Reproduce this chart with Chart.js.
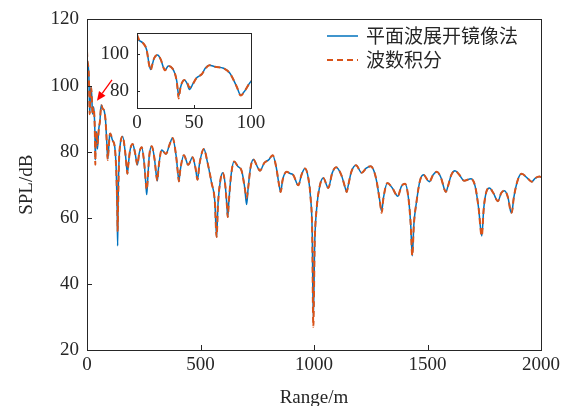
<!DOCTYPE html>
<html>
<head>
<meta charset="utf-8">
<script src="https://cdn.jsdelivr.net/npm/chart.js@4.4.1/dist/chart.umd.min.js"></script>
<style>
  html, body { margin: 0; padding: 0; background: #fff; }
  #wrap { position: relative; width: 565px; height: 406px; }
  #wrap canvas { position: absolute; left: 0; top: 0; }
</style>
</head>
<body>
<div id="wrap">
  <canvas id="mainChart" width="565" height="406"></canvas>
  <canvas id="insetChart" width="565" height="406"></canvas>
</div>
<script>
// 距离 (m)
var range = [
  0, 2, 5.5, 8.5, 10.5, 12, 13.5, 15, 18, 21, 23, 24.5, 27.5, 31, 33.5, 35, 36.6, 38, 39.5, 41.5,
  44, 46, 49, 52, 57, 60, 63.5, 68.5, 76, 81.5, 87.5, 91, 95, 99.7, 102, 112, 123, 129, 133, 135,
  137, 141, 147, 157, 168, 175, 178, 182, 190, 201, 212, 222, 230, 241, 252, 260, 263, 267, 274, 285,
  297, 306, 310, 315, 329, 348, 363, 377, 392, 402, 405, 410, 427, 446, 465, 478, 487, 495, 515, 530,
  549, 563, 571, 577, 588, 598, 608, 616, 620, 625, 635, 648, 665, 681, 695, 703, 710, 720, 733, 750,
  762, 781, 800, 818, 833, 846, 853, 862, 879, 895, 909, 931, 945, 960, 975, 985, 992, 997, 1003, 1012,
  1025, 1041, 1063, 1080, 1097, 1120, 1140, 1144, 1150, 1165, 1185, 1210, 1230, 1250, 1265, 1276, 1290, 1298, 1306, 1323,
  1345, 1369, 1385, 1401, 1416, 1426, 1433, 1440, 1452, 1466, 1482, 1508, 1525, 1541, 1560, 1575, 1581, 1590, 1605, 1621,
  1640, 1661, 1692, 1710, 1725, 1739, 1748, 1760, 1773, 1790, 1810, 1825, 1839, 1855, 1866, 1871, 1880, 1898, 1915, 1940,
  1959, 1975, 1993, 2000
];
// 平面波展开镜像法 (dB)
var splImage = [
  108, 107.3, 105.8, 102.2, 95, 91.7, 94.5, 97.7, 99.5, 96.8, 93, 91.4, 93.5, 92.3, 89, 85, 77.5, 81.5, 84.5, 86,
  84, 80.8, 83.8, 86.9, 89.2, 92.5, 94, 93.1, 92.3, 89.6, 82.3, 77.8, 80.5, 85, 85.5, 83.5, 81, 74, 62, 51.5,
  65, 77, 82.5, 84.6, 80, 75, 73.3, 76, 80.5, 82.3, 79.5, 76, 79.5, 81.3, 76.5, 69.5, 67, 71, 78.5, 81.6,
  78, 72.5, 71.2, 75, 80.5, 79.3, 82, 84.1, 79, 72.5, 71, 74, 78.9, 76, 78.3, 75, 71.5, 76, 80.8, 77,
  70.5, 65, 54.2, 64, 71.5, 73.6, 70.5, 64, 60.2, 65, 73, 77, 75.5, 74.2, 69, 64, 69, 75, 77.6, 75.5,
  74.2, 76.6, 77.5, 78.9, 75.5, 70, 67.8, 71.5, 73.9, 73.4, 72.9, 69.8, 73, 74.9, 72, 66, 56, 29, 52, 63,
  69.5, 72, 69, 73.5, 75.3, 73, 68.5, 67.8, 69.5, 74, 75.9, 73.6, 75, 75.6, 74, 71, 65, 62, 66, 70.5,
  69, 66.5, 69.5, 70.3, 66, 58, 48.5, 58, 65, 71, 73, 70.9, 73, 73.9, 72, 68.5, 67.8, 69.5, 73, 74.2,
  73, 71.2, 71.8, 69.5, 63, 54.5, 63, 68, 69, 67.5, 65, 67.5, 68.2, 66, 62, 61.5, 66, 71.5, 73.3, 72,
  70.9, 72, 72.5, 72.3
];
// 波数积分 (dB)
var splWavenumber = [
  110.5, 107.5, 105.8, 102.2, 94.5, 91.3, 94.5, 97.7, 99.5, 96.8, 93, 91.2, 93.5, 92.3, 89, 84.5, 76, 81.5, 84.5, 86,
  84.5, 82, 83.8, 86.9, 89.2, 92, 94, 93.1, 92.3, 89.6, 82.3, 77.5, 80.5, 85, 85.5, 83.5, 81, 74, 64, 56,
  64, 77, 82.5, 84.6, 80, 75, 73.3, 76, 80.5, 82.3, 79.5, 76, 79.5, 81.3, 76.5, 70, 68.5, 71, 78.5, 81.6,
  78, 72.5, 71.2, 75, 80.5, 79.3, 82, 84.1, 79, 72.5, 71, 74, 78.9, 76, 78.3, 75, 71.5, 76, 80.8, 77,
  70.5, 65, 54.2, 64, 71.5, 73.6, 70.5, 64, 60.2, 65, 73, 77, 75.5, 74.2, 69, 66, 69, 75, 77.6, 75.5,
  74.2, 76.6, 77.5, 78.9, 75.5, 70, 67.8, 71.5, 73.9, 73.4, 72.9, 69.8, 73, 74.9, 72, 66, 56, 27, 52, 63,
  69.5, 72, 69, 73.5, 75.3, 73, 68.5, 67.8, 69.5, 74, 75.9, 73.6, 75, 75.6, 74, 71, 65, 61.5, 66, 70.5,
  69, 66.5, 69.5, 70.3, 66, 58, 48.5, 58, 65, 71, 73, 70.9, 73, 73.9, 72, 68.5, 67.8, 69.5, 73, 74.2,
  73, 71.2, 71.8, 69.5, 63, 54.5, 63, 68, 69, 67.5, 65, 67.5, 68.2, 66, 62, 61.5, 66, 71.5, 73.3, 72,
  70.9, 72, 72.5, 72.3
];
var seriesNames = ['平面波展开镜像法', '波数积分'];
var xTicksMain = [0, 500, 1000, 1500, 2000];
var yTicksMain = [20, 40, 60, 80, 100, 120];
var xTicksInset = [0, 50, 100];
var yTicksInset = [80, 100];
// 红色箭头 (起点 -> 终点, 数据坐标)
var arrowFrom = [110, 101.7];
var arrowTo = [44, 95.4];

var BLUE = '#0072BD';
var ORANGE = '#D95319';
var AXIS = '#262626';
var SERIF = '"Liberation Serif", "Times New Roman", serif';

function pts(ys) {
  return range.map(function (x, i) { return { x: x, y: ys[i] }; });
}

function makeDatasets() {
  return [
    { label: seriesNames[0], data: pts(splImage), borderColor: BLUE, borderWidth: 1.5,
      pointRadius: 0, cubicInterpolationMode: 'monotone', order: 1 },
    { label: seriesNames[1], data: pts(splWavenumber), borderColor: ORANGE, borderWidth: 2,
      borderDash: [6, 4], pointRadius: 0, cubicInterpolationMode: 'monotone', order: 0 }
  ];
}

// box + inward ticks, matlab style
var boxPlugin = {
  id: 'box',
  beforeDraw: function (chart) {
    var a = chart.chartArea, c = chart.ctx;
    c.save();
    c.fillStyle = '#fff';
    c.fillRect(a.left, a.top, a.right - a.left, a.bottom - a.top);
    c.restore();
  },
  afterDraw: function (chart) {
    var a = chart.chartArea, c = chart.ctx;
    var len = chart.options.plugins.box.tickLen;
    c.save();
    c.strokeStyle = AXIS;
    c.lineWidth = 1;
    c.strokeRect(Math.round(a.left) + 0.5, Math.round(a.top) + 0.5,
      Math.round(a.right - a.left), Math.round(a.bottom - a.top));
    c.beginPath();
    chart.scales.x.ticks.forEach(function (t) {
      var px = Math.round(chart.scales.x.getPixelForValue(t.value)) + 0.5;
      c.moveTo(px, a.bottom);
      c.lineTo(px, a.bottom - len);
    });
    chart.scales.y.ticks.forEach(function (t) {
      var py = Math.round(chart.scales.y.getPixelForValue(t.value)) + 0.5;
      c.moveTo(a.left, py);
      c.lineTo(a.left + len, py);
    });
    c.stroke();
    c.restore();
  }
};

var legendPlugin = {
  id: 'simpleLegend',
  afterDraw: function (chart) {
    var c = chart.ctx;
    var rows = chart.data.datasets;
    c.save();
    c.font = '19px "Noto Sans CJK SC", sans-serif';
    c.textBaseline = 'middle';
    c.fillStyle = AXIS;
    var order = [0, 1];
    order.forEach(function (k, i) {
      var ds = rows[k];
      var y = 36 + i * 24;
      c.beginPath();
      c.strokeStyle = ds.borderColor;
      c.lineWidth = ds.borderWidth;
      c.setLineDash(ds.borderDash || []);
      c.moveTo(327, y);
      c.lineTo(358, y);
      c.stroke();
      c.setLineDash([]);
      c.fillText(ds.label, 366, y);
    });
    c.restore();
  }
};

var arrowPlugin = {
  id: 'arrow',
  afterDatasetsDraw: function (chart) {
    var c = chart.ctx, sx = chart.scales.x, sy = chart.scales.y;
    var x0 = sx.getPixelForValue(arrowFrom[0]), y0 = sy.getPixelForValue(arrowFrom[1]);
    var x1 = sx.getPixelForValue(arrowTo[0]), y1 = sy.getPixelForValue(arrowTo[1]);
    var ang = Math.atan2(y1 - y0, x1 - x0);
    var head = 9, wid = 4;
    c.save();
    c.strokeStyle = '#FF0000';
    c.fillStyle = '#FF0000';
    c.lineWidth = 1.3;
    c.beginPath();
    c.moveTo(x0, y0);
    c.lineTo(x1 - head * Math.cos(ang), y1 - head * Math.sin(ang));
    c.stroke();
    c.beginPath();
    c.moveTo(x1, y1);
    c.lineTo(x1 - head * Math.cos(ang) + wid * Math.sin(ang), y1 - head * Math.sin(ang) - wid * Math.cos(ang));
    c.lineTo(x1 - head * Math.cos(ang) - wid * Math.sin(ang), y1 - head * Math.sin(ang) + wid * Math.cos(ang));
    c.closePath();
    c.fill();
    c.restore();
  }
};

function fixedTicks(list) {
  return function (scale) {
    scale.ticks = list.map(function (v) { return { value: v }; });
  };
}

function plainLabel(v) { return String(v); }

var tickFont = { family: SERIF, size: 19 };

new Chart(document.getElementById('mainChart'), {
  type: 'line',
  data: { datasets: makeDatasets() },
  options: {
    responsive: false,
    animation: false,
    events: [],
    layout: { padding: { left: 0, top: 17, right: 24, bottom: 0 } },
    scales: {
      x: {
        type: 'linear', min: 0, max: 2000,
        afterBuildTicks: fixedTicks(xTicksMain),
        afterFit: function (s) { s.height = 56; },
        grid: { display: false, drawTicks: false, tickLength: 0 },
        border: { display: false },
        ticks: { color: AXIS, font: tickFont, padding: 4, maxRotation: 0, callback: plainLabel },
        title: { display: true, text: 'Range/m', color: AXIS,
          font: { family: SERIF, size: 19, lineHeight: 0.8 }, padding: { top: 0, bottom: 0 } }
      },
      y: {
        min: 20, max: 120,
        afterBuildTicks: fixedTicks(yTicksMain),
        afterFit: function (s) { s.width = 87; },
        grid: { display: false, drawTicks: false, tickLength: 0 },
        border: { display: false },
        ticks: { color: AXIS, font: tickFont, padding: 8, callback: plainLabel },
        title: { display: true, text: 'SPL/dB', color: AXIS,
          font: { family: SERIF, size: 19, lineHeight: 1.2 }, padding: { top: 16, bottom: 0 } }
      }
    },
    plugins: {
      legend: { display: false },
      tooltip: { enabled: false },
      box: { tickLen: 5 }
    }
  },
  plugins: [boxPlugin, arrowPlugin, legendPlugin]
});

new Chart(document.getElementById('insetChart'), {
  type: 'line',
  data: { datasets: makeDatasets() },
  options: {
    responsive: false,
    animation: false,
    events: [],
    layout: { padding: { left: 87, top: 33, right: 314, bottom: 268 } },
    scales: {
      x: {
        type: 'linear', min: 0, max: 100,
        afterBuildTicks: fixedTicks(xTicksInset),
        afterFit: function (s) { s.height = 30; },
        grid: { display: false, drawTicks: false, tickLength: 0 },
        border: { display: false },
        ticks: { color: AXIS, font: tickFont, padding: 4, maxRotation: 0, callback: plainLabel },
        title: { display: false }
      },
      y: {
        min: 70.8, max: 111.4,
        afterBuildTicks: fixedTicks(yTicksInset),
        afterFit: function (s) { s.width = 50; },
        grid: { display: false, drawTicks: false, tickLength: 0 },
        border: { display: false },
        ticks: { color: AXIS, font: tickFont, padding: 8, callback: plainLabel }
      }
    },
    plugins: {
      legend: { display: false },
      tooltip: { enabled: false },
      box: { tickLen: 3 }
    }
  },
  plugins: [boxPlugin]
});
</script>
</body>
</html>
